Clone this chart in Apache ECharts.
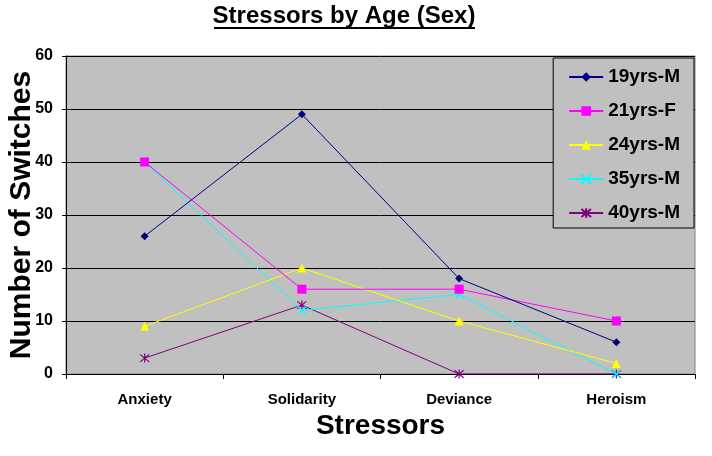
<!DOCTYPE html>
<html><head><meta charset="utf-8">
<script src="https://cdn.jsdelivr.net/npm/echarts@6/dist/echarts.min.js"></script>
<style>html,body{margin:0;padding:0;background:#fff}#c{width:712px;height:456px}</style>
</head><body><div id="c"></div>
<script>
const categories = ['Anxiety', 'Solidarity', 'Deviance', 'Heroism'];
const seriesNames = ['19yrs-M', '21yrs-F', '24yrs-M', '35yrs-M', '40yrs-M'];
const s19M = [26, 49, 18, 6];
const s21F = [40, 16, 16, 10];
const s24M = [9, 20, 10, 2];
const s35M = [40, 12, 15, 0];
const s40M = [3, 13, 0, 0];
const yTicks = [0, 10, 20, 30, 40, 50, 60];

const colors = ['#000080', '#FF00FF', '#FFFF00', '#00FFFF', '#800080'];
const symbols = ['diamond', 'rect', 'triangle',
  'path://M0,0L10,10M10,0L0,10',
  'path://M0,0L10,10M10,0L0,10M5,-1L5,11'];
const sizes = [8, 9, 9, 8, 9];
const datas = [s19M, s21F, s24M, s35M, s40M];
const font = 'Liberation Sans, Arial, sans-serif';

const chart = echarts.init(document.getElementById('c'));
chart.setOption({
  animation: false,
  backgroundColor: '#ffffff',
  graphic: [
    {type: 'text', x: 344, y: 4, style: {text: 'Stressors by Age (Sex)', font: 'bold 24px ' + font, fill: '#000', textAlign: 'center'}},
    {type: 'line', shape: {x1: 214, y1: 28, x2: 475, y2: 28}, style: {stroke: '#000', lineWidth: 2}}
  ],
  grid: {left: 66, right: 17, top: 56, bottom: 82, show: true, backgroundColor: '#C0C0C0', borderColor: '#808080', borderWidth: 1, outerBoundsMode: 'none', containLabel: false},
  legend: {
    orient: 'vertical', right: 18, top: 58,
    data: seriesNames,
    backgroundColor: '#C0C0C0', borderColor: '#000', borderWidth: 1,
    padding: [9, 14, 5, 15], itemGap: 14, itemWidth: 34, itemHeight: 12,
    textStyle: {fontFamily: font, fontWeight: 'bold', fontSize: 19, lineHeight: 20, color: '#000'}
  },
  xAxis: {
    type: 'category', data: categories, boundaryGap: true,
    name: 'Stressors', nameLocation: 'middle', nameGap: 37,
    nameTextStyle: {fontFamily: font, fontWeight: 'bold', fontSize: 28, color: '#000'},
    axisLine: {lineStyle: {color: '#000', width: 1}},
    axisTick: {show: true, alignWithLabel: false, length: 5, lineStyle: {color: '#000'}},
    axisLabel: {fontFamily: font, fontWeight: 'bold', fontSize: 15, color: '#000', margin: 18}
  },
  yAxis: {
    type: 'value', min: 0, max: 60, interval: 10,
    name: 'Number of Switches', nameLocation: 'middle', nameGap: 29, nameMoveOverlap: false,
    nameTextStyle: {fontFamily: font, fontWeight: 'bold', fontSize: 30, color: '#000'},
    axisLine: {show: true, lineStyle: {color: '#000'}},
    axisTick: {show: true, length: 4, lineStyle: {color: '#000'}},
    axisLabel: {fontFamily: font, fontWeight: 'bold', fontSize: 16, color: '#000', margin: 13,
      formatter: v => yTicks.includes(v) ? String(v) : ''},
    splitLine: {show: true, lineStyle: {color: '#000', width: 1}}
  },
  series: seriesNames.map((n, i) => ({
    name: n, type: 'line', data: datas[i],
    symbol: symbols[i], symbolSize: sizes[i],
    lineStyle: {color: colors[i], width: 1},
    itemStyle: {color: colors[i], borderColor: colors[i], borderWidth: (i >= 3 ? 1.2 : 0)},
    z: 10 - i
  }))
});
</script></body></html>
